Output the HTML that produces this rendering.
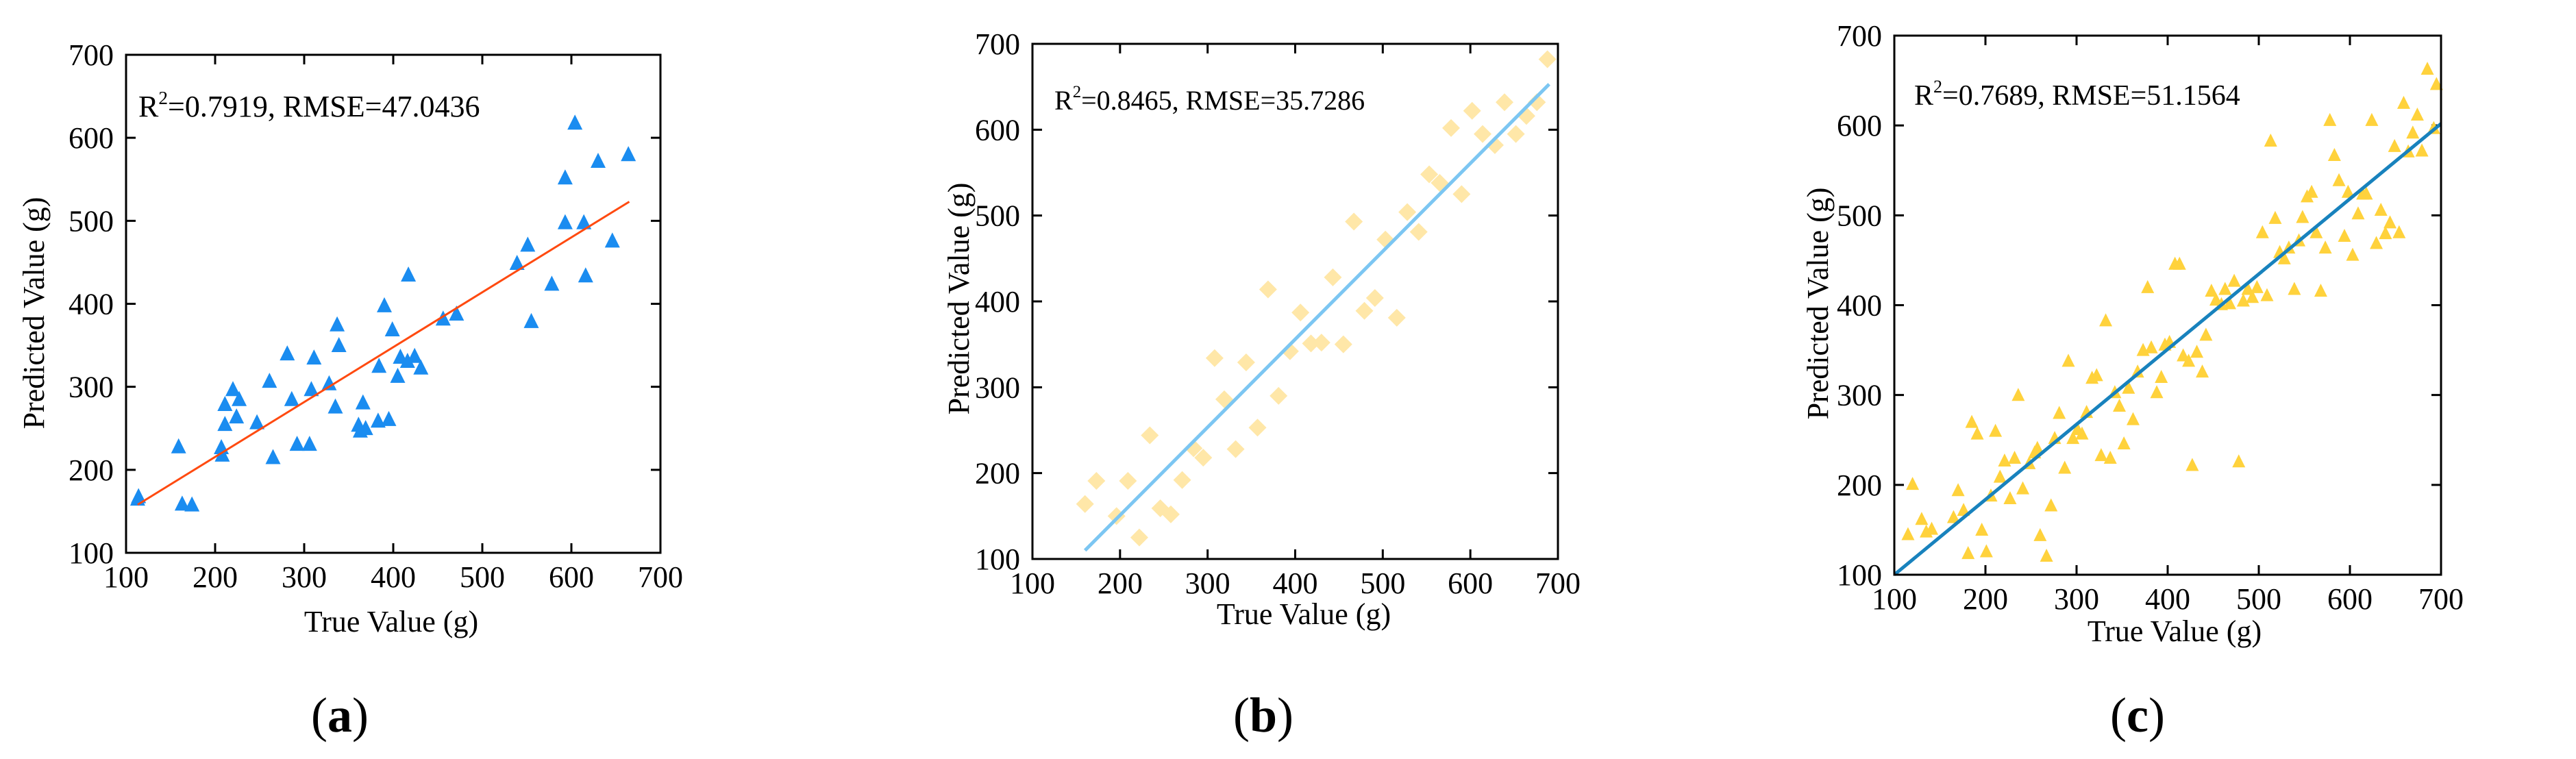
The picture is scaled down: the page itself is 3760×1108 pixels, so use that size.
<!DOCTYPE html>
<html><head><meta charset="utf-8">
<style>
html,body{margin:0;padding:0;background:#fff;}
svg{display:block;font-family:"Liberation Serif",serif;}
text{font-family:"Liberation Serif",serif;}
</style></head>
<body>
<svg id="fig" width="3760" height="1108" viewBox="0 0 3760 1108" xmlns="http://www.w3.org/2000/svg">
<rect width="3760" height="1108" fill="#fff"/>
</svg>
<script>
const ticks = [100,200,300,400,500,600,700];
const tickLabels = ["100","200","300","400","500","600","700"];

const aTrue = [114,113,159,163,174,207,208,211,211,220,224,227,247,261,265,281,286,292,306,308,311,328,335,337,339,361,363,366,369,383,384,390,395,399,405,408,416,417,424,431,456,471,539,551,555,578,593,593,604,614,616,630,646,664];
const aPred = [168,165,228,159,158,227,218,279,255,297,264,285,257,307,215,340,285,231,231,297,335,304,276,375,350,254,247,281,250,259,325,398,261,369,313,336,331,435,337,323,382,388,449,471,379,424,552,498,618,498,434,572,476,580];
const aFit = [[113,158],[665,523]];

const bTrue = [160,173,196,209,222,234,246,258,271,284,295,308,319,332,344,357,369,381,394,406,418,430,443,455,467,479,491,503,516,528,541,553,565,578,590,602,614,628,639,652,664,676,688];
const bPred = [164,191,150,191,125,244,159,152,192,229,218,334,286,228,329,253,414,290,342,387,351,352,428,350,493,389,404,472,381,504,481,548,538,602,525,622,595,582,632,595,616,632,682];
const bFit = [[160,110],[690,653]];

const cTrue = [115,120,130,135,141,165,170,176,181,185,191,196,201,206,211,216,221,227,232,236,241,248,254,257,260,267,272,276,281,287,291,296,301,306,311,317,322,327,332,337,342,347,352,357,362,367,373,378,382,388,393,397,402,408,413,417,423,427,432,438,442,448,453,459,463,468,473,478,483,488,493,498,504,509,513,518,523,528,533,539,544,548,553,558,563,568,573,578,583,588,594,598,603,609,614,618,624,629,634,639,644,649,654,659,664,669,674,679,685,692,695];
const cPred = [145,201,162,148,151,164,194,172,124,270,257,150,126,188,260,209,227,185,230,300,196,224,236,241,144,121,177,252,280,219,338,252,262,257,281,319,322,233,383,230,303,288,246,308,273,326,350,420,353,303,320,356,359,446,446,344,338,222,348,326,367,416,406,401,418,402,427,226,405,418,409,420,481,411,583,497,459,452,464,418,472,498,521,526,481,416,464,606,567,539,477,526,456,502,524,524,606,469,506,480,492,577,481,625,571,592,612,572,663,597,646];
const cFit = [[100,100],[700,602]];

const NS = "http://www.w3.org/2000/svg";
const svg = document.getElementById("fig");
const FF = "Liberation Serif, serif";
function mk(tag, attrs, parent){
  const e = document.createElementNS(NS, tag);
  for (const k in attrs) e.setAttribute(k, attrs[k]);
  if (tag === "text") e.setAttribute("font-family", FF);
  (parent||svg).appendChild(e);
  return e;
}

function panel(cfg, xs, ys, fit){
  const g = mk("g", {});
  
  
  const X = v => cfg.L + (v-100)/600*(cfg.R-cfg.L);
  const Y = v => cfg.B - (v-100)/600*(cfg.B-cfg.T);
  ticks.forEach((t,i)=>{
    const x = X(t), y = Y(t);
    if (i>0 && i<ticks.length-1){
      const tk = mk("path", {d:`M${x},${cfg.B}v-14M${x},${cfg.T}v14M${cfg.L},${y}h14M${cfg.R},${y}h-14`, stroke:"#000","stroke-width":3,fill:"none"}, g);
      
      
    }
    const xl = mk("text", {x:x, y:cfg.B+50, "text-anchor":"middle", "font-size":44, fill:"#000"}, g);
    xl.textContent = tickLabels[i];
    
    
    const yl = mk("text", {x:cfg.L-18, y:y+15, "text-anchor":"end", "font-size":44, fill:"#000"}, g);
    yl.textContent = tickLabels[i];
    
    
  });
  xs.forEach((xv,i)=>{
    const cx = X(xv), cy = Y(ys[i]);
    let p;
    if (cfg.marker === "diamond"){
      p = mk("polygon", {points:`${cx},${cy-13} ${cx+13},${cy} ${cx},${cy+13} ${cx-13},${cy}`, fill:cfg.mcolor}, g);
    } else {
      const s = cfg.msize;
      p = mk("polygon", {points:`${cx},${cy-s*0.55} ${cx-s/2},${cy+s*0.45} ${cx+s/2},${cy+s*0.45}`, fill:cfg.mcolor}, g);
    }
    
    
  });
  const ln = mk("line", {x1:X(fit[0][0]), y1:Y(fit[0][1]), x2:X(fit[1][0]), y2:Y(fit[1][1]), stroke:cfg.lcolor, "stroke-width":cfg.lw}, g);
  
  
  const fr = mk("rect", {x:cfg.L, y:cfg.T, width:cfg.R-cfg.L, height:cfg.B-cfg.T, fill:"none", stroke:"#000", "stroke-width":3}, g);
  
  
  const an = mk("text", {x:cfg.annX, y:cfg.annY, "font-size":cfg.annSize, fill:"#000"}, g);
  an.innerHTML = `R<tspan font-size="${cfg.annSize*0.62}" dy="-18">2</tspan><tspan dy="18">${cfg.ann}</tspan>`;
  
  
  const xt = mk("text", {x:cfg.xtX, y:cfg.xtY, "text-anchor":"middle", "font-size":44, fill:"#000"}, g);
  xt.textContent = "True Value (g)";
  
  
  const yt = mk("text", {x:0, y:0, "text-anchor":"middle", "font-size":44, fill:"#000", transform:`translate(${cfg.ytX},${cfg.ytY}) rotate(-90)`}, g);
  yt.textContent = "Predicted Value (g)";
  
  
  const pl = mk("text", {x:cfg.plX, y:1068, "text-anchor":"middle", "font-size":72, fill:"#000"}, g);
  pl.innerHTML = `(<tspan font-weight="bold">${cfg.letter}</tspan>)`;
  
  
}

panel({name:"panel-a", L:184, R:964, T:80, B:807, marker:"tri", msize:22, mcolor:"#1a8cf0", lcolor:"#ff4a10", lw:3,
  annX:202, annY:170, annSize:44, ann:"=0.7919, RMSE=47.0436", xtX:571, xtY:922, ytX:64, ytY:457, plX:496, letter:"a"},
  aTrue, aPred, aFit);
panel({name:"panel-b", L:1507, R:2274, T:64, B:816, marker:"diamond", mcolor:"#ffe7a8", lcolor:"#7cc6f2", lw:5,
  annX:1539, annY:160, annSize:40, ann:"=0.8465, RMSE=35.7286", xtX:1903, xtY:911, ytX:1414, ytY:436, plX:1844, letter:"b"},
  bTrue, bPred, bFit);
panel({name:"panel-c", L:2765, R:3563, T:52, B:839, marker:"tri", msize:19, mcolor:"#ffd23c", lcolor:"#1882bd", lw:5,
  annX:2794, annY:153, annSize:42, ann:"=0.7689, RMSE=51.1564", xtX:3174, xtY:936, ytX:2668, ytY:443, plX:3120, letter:"c"},
  cTrue, cPred, cFit);
</script>
</body></html>
